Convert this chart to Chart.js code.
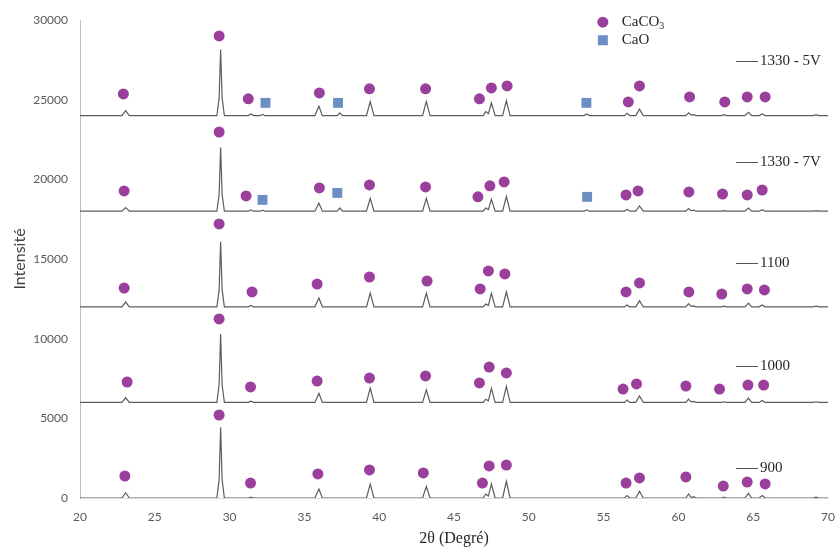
<!DOCTYPE html>
<html>
<head>
<meta charset="utf-8">
<script src="https://cdn.jsdelivr.net/npm/chart.js@4"></script>
<style>
  html, body { margin: 0; padding: 0; background: #fff; }
  #wrap { width: 836px; height: 550px; }
</style>
</head>
<body>
<div id="wrap"><canvas id="xrdChart" width="836" height="550"></canvas></div>
<script>
// 2theta grid shared by all patterns
const twoTheta = [20, 22.8, 23.05, 23.3,
  29.15, 29.3, 29.4, 29.5, 29.65,
  31.25, 31.42, 31.6,
  32.05, 32.2, 32.35,
  35.7, 35.97, 36.2,
  37.2, 37.36, 37.55,
  39.15, 39.4, 39.65,
  42.9, 43.15, 43.4,
  46.95, 47.12, 47.3, 47.5, 47.75,
  48.25, 48.5, 48.75,
  53.7, 53.86, 54.05,
  56.4, 56.57, 56.75, 57.15, 57.4, 57.65,
  60.5, 60.68, 60.85, 61.0, 61.2,
  62.9, 63.05, 63.2,
  64.45, 64.68, 64.9,
  65.4, 65.6, 65.8,
  69.0, 69.2, 69.4, 70];

const sampleNames = ['1330 - 5V', '1330 - 7V', '1100', '1000', '900'];
const offsets = [24000, 18000, 12000, 6000, 0];

const int5V = [0, 0, 300, 0,
  0, 1100, 4150, 1100, 0,
  0, 100, 0,
  0, 80, 0,
  0, 590, 0,
  0, 170, 0,
  0, 880, 0,
  0, 880, 0,
  0, 250, 120, 800, 0,
  0, 940, 0,
  0, 100, 0,
  0, 150, 0, 0, 400, 0,
  0, 170, 30, 60, 0,
  0, 60, 0,
  0, 210, 0,
  0, 100, 0,
  0, 40, 0, 0];
const int7V = [0, 0, 230, 0,
  0, 1050, 4000, 1050, 0,
  0, 80, 0,
  0, 60, 0,
  0, 500, 0,
  0, 200, 0,
  0, 800, 0,
  0, 800, 0,
  0, 200, 100, 750, 0,
  0, 920, 0,
  0, 80, 0,
  0, 120, 0, 0, 330, 0,
  0, 160, 30, 60, 0,
  0, 40, 0,
  0, 200, 0,
  0, 100, 0,
  0, 40, 0, 0];
const int1100 = [0, 0, 300, 0,
  0, 1080, 4080, 1080, 0,
  0, 80, 0,
  0, 0, 0,
  0, 550, 0,
  0, 0, 0,
  0, 860, 0,
  0, 850, 0,
  0, 170, 90, 840, 0,
  0, 940, 0,
  0, 0, 0,
  0, 120, 0, 0, 380, 0,
  0, 200, 30, 60, 0,
  0, 40, 0,
  0, 230, 0,
  0, 120, 0,
  0, 40, 0, 0];
const int1000 = [0, 0, 290, 0,
  0, 1120, 4290, 1120, 0,
  0, 80, 0,
  0, 0, 0,
  0, 565, 0,
  0, 0, 0,
  0, 900, 0,
  0, 790, 0,
  0, 200, 100, 880, 0,
  0, 1000, 0,
  0, 0, 0,
  0, 150, 0, 0, 400, 0,
  0, 200, 30, 60, 0,
  0, 40, 0,
  0, 270, 0,
  0, 120, 0,
  0, 40, 0, 0];
const int900 = [0, 0, 330, 0,
  0, 1150, 4440, 1150, 0,
  0, 60, 0,
  0, 0, 0,
  0, 565, 0,
  0, 0, 0,
  0, 880, 0,
  0, 730, 0,
  0, 250, 120, 880, 0,
  0, 1050, 0,
  0, 0, 0,
  0, 150, 0, 0, 420, 0,
  0, 250, 30, 80, 0,
  0, 60, 0,
  0, 290, 0,
  0, 150, 0,
  0, 50, 0, 0];
const intensities = [int5V, int7V, int1100, int1000, int900];

// phase markers (already at plotted height)
const caco3X5V = [22.9, 29.3, 31.25, 36.0, 39.35, 43.1, 46.7, 47.5, 48.55, 56.65, 57.4, 60.75, 63.1, 64.6, 65.8];
const caco3Y5V = [25360, 29000, 25050, 25420, 25680, 25680, 25050, 25740, 25860, 24860, 25860, 25170, 24860, 25170, 25170];
const caoX5V = [32.4, 37.25, 53.85];
const caoY5V = [24800, 24800, 24800];

const caco3X7V = [22.95, 29.3, 31.1, 36.0, 39.35, 43.1, 46.6, 47.4, 48.35, 56.5, 57.3, 60.7, 62.95, 64.6, 65.6];
const caco3Y7V = [19270, 22970, 18960, 19460, 19650, 19520, 18900, 19590, 19840, 19020, 19270, 19210, 19080, 19020, 19330];
const caoX7V = [32.2, 37.2, 53.9];
const caoY7V = [18710, 19150, 18900];

const caco3X1100 = [22.95, 29.3, 31.5, 35.85, 39.35, 43.2, 46.75, 47.3, 48.4, 56.5, 57.4, 60.7, 62.9, 64.6, 65.75];
const caco3Y1100 = [13180, 17200, 12930, 13430, 13870, 13620, 13120, 14250, 14060, 12930, 13500, 12930, 12800, 13120, 13060];

const caco3X1000 = [23.15, 29.3, 31.4, 35.85, 39.35, 43.1, 46.7, 47.35, 48.5, 56.3, 57.2, 60.5, 62.75, 64.65, 65.7];
const caco3Y1000 = [7280, 11240, 6970, 7340, 7530, 7660, 7220, 8220, 7850, 6840, 7160, 7030, 6840, 7090, 7090];

const caco3X900 = [23.0, 29.3, 31.4, 35.9, 39.35, 42.95, 46.9, 47.35, 48.5, 56.5, 57.4, 60.5, 63.0, 64.6, 65.8];
const caco3Y900 = [1380, 5210, 940, 1510, 1760, 1570, 940, 2010, 2070, 940, 1260, 1320, 750, 1000, 880];

const PURPLE = '#9a3f9c';
const BLUE = '#6b8fc2';
const LINE = '#5c5c5c';

function pts(xs, ys) {
  return xs.map((x, i) => ({ x: x, y: ys[i] }));
}

const datasets = [];
intensities.forEach((arr, k) => {
  datasets.push({
    type: 'line',
    label: sampleNames[k],
    data: twoTheta.map((t, i) => ({ x: t, y: arr[i] + offsets[k] })),
    borderColor: LINE,
    borderWidth: 1.2,
    pointRadius: 0,
    tension: 0,
    order: 2
  });
});

const caco3Sets = [[caco3X5V, caco3Y5V], [caco3X7V, caco3Y7V], [caco3X1100, caco3Y1100], [caco3X1000, caco3Y1000], [caco3X900, caco3Y900]];
caco3Sets.forEach(s => {
  datasets.push({
    type: 'scatter',
    label: 'CaCO3',
    data: pts(s[0], s[1]),
    pointStyle: 'circle',
    pointRadius: 5.5,
    backgroundColor: PURPLE,
    borderColor: PURPLE,
    borderWidth: 0,
    order: 1
  });
});
[[caoX5V, caoY5V], [caoX7V, caoY7V]].forEach(s => {
  datasets.push({
    type: 'scatter',
    label: 'CaO',
    data: pts(s[0], s[1]),
    pointStyle: 'rect',
    pointRadius: 7,
    backgroundColor: BLUE,
    borderColor: BLUE,
    borderWidth: 0,
    order: 1
  });
});

// sample names + phase legend drawn on the canvas
const annotations = {
  id: 'annotations',
  afterDraw(chart, args, opts) {
    const ctx = chart.ctx;
    const ys = chart.scales.y;
    const xs = chart.scales.x;
    ctx.save();
    ctx.font = '15px "Liberation Serif", serif';
    ctx.textBaseline = 'middle';
    ctx.fillStyle = '#262626';
    ctx.strokeStyle = '#555';
    ctx.lineWidth = 1;
    const x0 = xs.getPixelForValue(opts.labelX);
    sampleNames.forEach((name, i) => {
      const y = Math.round(ys.getPixelForValue(opts.labelY[i])) + 0.5;
      ctx.beginPath();
      ctx.moveTo(x0, y);
      ctx.lineTo(x0 + 22, y);
      ctx.stroke();
      ctx.fillText(name, x0 + 24, y);
    });

    // phase legend
    const lx = xs.getPixelForValue(opts.legendX);
    const ly = ys.getPixelForValue(opts.legendY);
    ctx.fillStyle = PURPLE;
    ctx.beginPath();
    ctx.arc(lx, ly, 5.5, 0, Math.PI * 2);
    ctx.fill();
    ctx.fillStyle = BLUE;
    ctx.fillRect(lx - 5, ly + 18 - 5, 10, 10);
    ctx.fillStyle = '#262626';
    ctx.textAlign = 'left';
    ctx.fillText('CaCO', lx + 19, ly);
    const w = ctx.measureText('CaCO').width;
    ctx.font = '10px "Liberation Serif", serif';
    ctx.fillText('3', lx + 19 + w, ly + 4);
    ctx.font = '15px "Liberation Serif", serif';
    ctx.fillText('CaO', lx + 19, ly + 18);
    ctx.restore();
  }
};

const ctx = document.getElementById('xrdChart').getContext('2d');
const xrdChart = new Chart(ctx, {
  data: { datasets: datasets },
  plugins: [annotations],
  options: {
    responsive: false,
    animation: false,
    layout: { padding: { left: 0, right: 8, top: 20, bottom: 0 } },
    plugins: {
      legend: { display: false },
      tooltip: { enabled: false },
      annotations: {
        labelX: 63.85,
        labelY: [27430, 21090, 14750, 8290, 1880],
        legendX: 54.95,
        legendY: 29860
      }
    },
    scales: {
      x: {
        type: 'linear',
        min: 20,
        max: 70,
        ticks: {
          stepSize: 5, padding: 12, color: '#595959',
          font: { family: 'Lato', size: 12 },
          callback: v => String(v)
        },
        grid: { display: false, drawTicks: false },
        border: { display: true, color: '#d9d9d9' },
        title: {
          display: true,
          text: '2θ (Degré)',
          color: '#262626',
          font: { family: '"Liberation Serif"', size: 16 },
          padding: { top: 0, bottom: 2 }
        },
        afterFit(scale) {
          scale.height = 52;
          scale.paddingLeft = 0;
          scale.paddingRight = 0;
        }
      },
      y: {
        min: 0,
        max: 30000,
        ticks: {
          stepSize: 5000, padding: 12, color: '#595959',
          font: { family: 'Lato', size: 12 },
          callback: v => String(v)
        },
        grid: { display: false, drawTicks: false },
        border: { display: true, color: '#bfbfbf' },
        title: {
          display: true,
          text: 'Intensité',
          color: '#404040',
          font: { family: 'Lato', size: 16 },
          padding: { top: 10, bottom: 0 }
        },
        afterFit(scale) { scale.width = 80; }
      }
    }
  }
});
</script>
</body>
</html>
